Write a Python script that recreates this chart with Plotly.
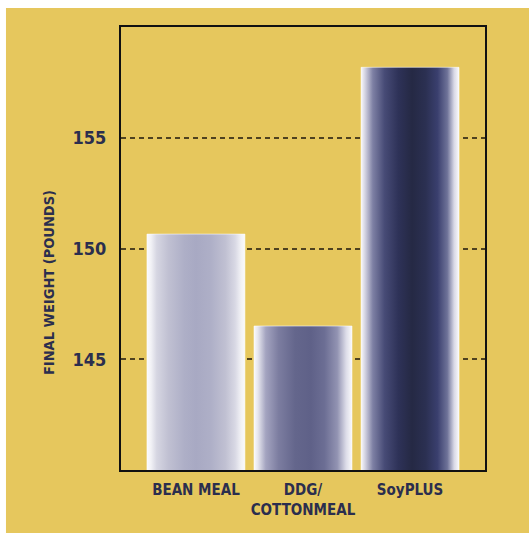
import plotly.graph_objects as go

categories = ["BEAN MEAL", "DDG/<br>COTTONMEAL", "SoyPLUS"]
final_weight = [150.65, 146.5, 158.18]
y_ticks = [145, 150, 155]

BAR_WIDTH = 0.915
Y_MIN, Y_MAX = 140, 160

gradients = [
    [[0.0, "#fafafc"], [0.04, "#f2f2f6"], [0.10, "#d6d6e2"], [0.22, "#c0c0d2"],
     [0.38, "#aeafc7"], [0.50, "#a8a9c3"], [0.65, "#aeafc7"], [0.80, "#c0c0d2"],
     [0.90, "#d8d8e4"], [0.96, "#f2f2f6"], [1.0, "#fafafc"]],
    [[0.0, "#fafafc"], [0.04, "#e6e6ee"], [0.12, "#a4a4c0"], [0.25, "#7c7da0"],
     [0.42, "#64668c"], [0.58, "#5f6188"], [0.72, "#6c6e94"], [0.85, "#9293b2"],
     [0.94, "#dcdce8"], [1.0, "#fafafc"]],
    [[0.0, "#fafafc"], [0.04, "#d4d4e2"], [0.12, "#7e80a4"], [0.24, "#474b76"],
     [0.38, "#2e3258"], [0.52, "#252944"], [0.66, "#2b3052"], [0.78, "#3a3f6e"],
     [0.88, "#6e7298"], [0.95, "#d8d8e6"], [1.0, "#fafafc"]],
]

fig = go.Figure()
for i, (cat, val) in enumerate(zip(categories, final_weight)):
    x0, x1 = i - BAR_WIDTH / 2, i + BAR_WIDTH / 2
    fig.add_trace(go.Scatter(
        x=[x0, x0, x1, x1, x0],
        y=[Y_MIN - 0.2, val, val, Y_MIN - 0.2, Y_MIN - 0.2],
        mode="lines",
        line=dict(width=0.8, color="rgba(255,255,255,0.7)"),
        fill="toself",
        fillgradient=dict(type="horizontal", colorscale=gradients[i]),
        hoverinfo="skip",
        showlegend=False,
        cliponaxis=False,
    ))

navy = "#2b2e4e"
font_fam = "DejaVu Sans Condensed"

fig.update_layout(
    width=529, height=533,
    margin=dict(l=121, r=44, t=27, b=63, autoexpand=False),
    paper_bgcolor="white",
    plot_bgcolor="rgba(0,0,0,0)",
    showlegend=False,
    shapes=[dict(type="rect", xref="paper", yref="paper",
                 x0=-0.316, x1=1.2, y0=-0.2, y1=1.043,
                 fillcolor="#e6c75d", line=dict(width=0), layer="below")],
    annotations=[dict(text="FINAL WEIGHT (POUNDS)", xref="paper", yref="paper",
                      x=-0.198, y=0.424, xanchor="center", yanchor="middle",
                      textangle=-90, showarrow=False,
                      font=dict(family=font_fam, size=14.5, color=navy, weight="bold"))],
)
fig.update_xaxes(
    range=[-0.70, 2.70],
    tickvals=[0, 1, 2], ticktext=categories, tickangle=0, automargin=False,
    showgrid=False, zeroline=False,
    showline=True, mirror=True, linecolor="#111111", linewidth=2,
    ticks="", tickfont=dict(family=font_fam, size=15, color=navy, weight="bold"),
    ticklabelstandoff=5,
)
fig.update_yaxes(
    range=[Y_MIN, Y_MAX],
    tickvals=y_ticks, automargin=False,
    showgrid=True, gridcolor="#4f4220", gridwidth=2, griddash="5px,4px",
    zeroline=False,
    showline=True, mirror=True, linecolor="#111111", linewidth=2,
    ticks="", tickfont=dict(family=font_fam, size=18, color=navy, weight="bold"),
    ticklabelstandoff=9,
)

fig.write_html("out.html")
